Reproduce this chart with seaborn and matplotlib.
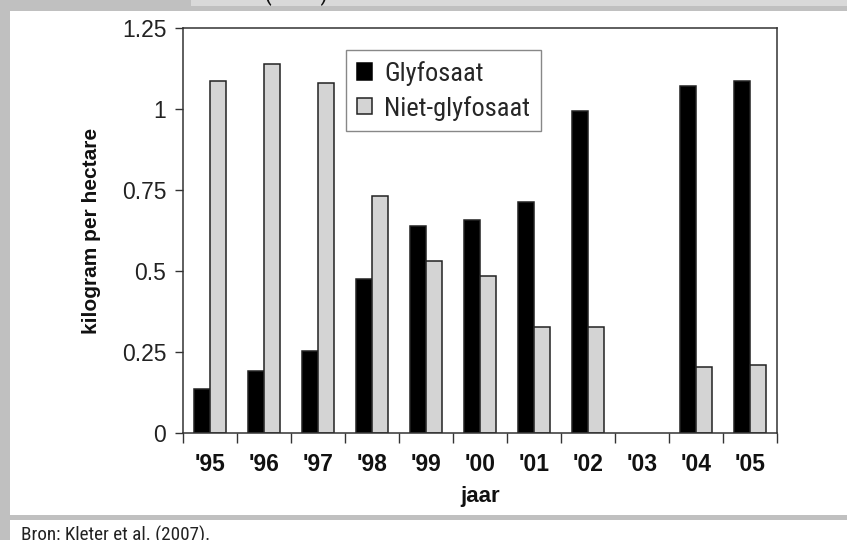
import matplotlib
matplotlib.use("Agg")
import numpy as np
import pandas as pd
import matplotlib.pyplot as plt
import seaborn as sns
from matplotlib.patches import Rectangle, Patch

# data
jaren = ["'95", "'96", "'97", "'98", "'99", "'00", "'01", "'02", "'03", "'04", "'05"]
glyfosaat = [0.137, 0.192, 0.254, 0.476, 0.640, 0.659, 0.714, 0.993, np.nan, 1.072, 1.085]
niet_glyfosaat = [1.088, 1.140, 1.079, 0.732, 0.530, 0.486, 0.327, 0.327, np.nan, 0.203, 0.210]
soorten = ["Glyfosaat", "Niet-glyfosaat"]
y_ticks = [0, 0.25, 0.5, 0.75, 1, 1.25]
y_tick_labels = ["0", "0.25", "0.5", "0.75", "1", "1.25"]

W, H = 847, 540
NARROW = ["Roboto Condensed", "Liberation Sans", "DejaVu Sans"]
SANS = ["Liberation Sans", "DejaVu Sans"]

df = pd.DataFrame({
    "jaar": jaren * 2,
    "soort": [soorten[0]] * len(jaren) + [soorten[1]] * len(jaren),
    "waarde": glyfosaat + niet_glyfosaat,
})

sns.set_theme(style="white")
plt.rcParams["font.family"] = SANS

fig = plt.figure(figsize=(W / 100, H / 100), dpi=100, facecolor="#c0c0c0")

# white panels and the light title strip of the page frame
fig.patches.append(Rectangle((9.5 / W, 1 - 515 / H), 1, (515 - 10.7) / H,
                             transform=fig.transFigure, facecolor="white", edgecolor="none", zorder=-2))
fig.patches.append(Rectangle((9.5 / W, 0), 1, 20 / H,
                             transform=fig.transFigure, facecolor="white", edgecolor="none", zorder=-2))
fig.patches.append(Rectangle((191 / W, 1 - 5.7 / H), 1, 5.7 / H,
                             transform=fig.transFigure, facecolor="#d9d9d9", edgecolor="none", zorder=-2))
fig.text(263 / W, 1.0, "(2007)", fontsize=18, family=NARROW, va="baseline", ha="left", color="#111")

ax = fig.add_axes([183 / W, 1 - 433.3 / H, 594 / W, 405.3 / H])
ax.set_facecolor("white")

sns.barplot(data=df, x="jaar", y="waarde", hue="soort", order=jaren, hue_order=soorten,
            palette={"Glyfosaat": "black", "Niet-glyfosaat": "#d4d4d4"},
            width=0.61, edgecolor="#222222", linewidth=1.1, errorbar=None, ax=ax)

ax.set_xlim(-0.5, 10.5)
ax.set_ylim(0, 1.25)

ax.set_xticks(range(len(jaren)))
ax.set_xticklabels(jaren, fontsize=16.5, fontweight="bold")
ax.set_xticks(np.arange(-0.5, len(jaren)), minor=True)
ax.tick_params(axis="x", which="major", length=0, pad=14, colors="#111")
ax.tick_params(axis="x", which="minor", length=7, width=1, color="#333", direction="out", bottom=True)

ax.set_yticks(y_ticks)
ax.set_yticklabels(y_tick_labels, fontsize=16.5)
ax.tick_params(axis="y", length=5.5, width=1, color="#333", direction="out", pad=6.5, left=True,
               labelcolor="#222")

for sp in ax.spines.values():
    sp.set_visible(True)
    sp.set_color("#333333")
    sp.set_linewidth(1.1)

ax.set_xlabel("jaar", fontsize=16, fontweight="bold", color="#111")
ax.xaxis.set_label_coords(0.5, -0.13)
ax.set_ylabel("kilogram per hectare", fontsize=15, fontweight="bold", color="#111")
ax.yaxis.set_label_coords(-0.138, 0.5)

handles = [Patch(facecolor="black", edgecolor="black", linewidth=1.1),
           Patch(facecolor="#d4d4d4", edgecolor="#222222", linewidth=1.1)]
leg = ax.legend(handles, soorten, loc="upper left", bbox_to_anchor=(0.2744, 0.946), borderaxespad=0,
                frameon=True, fancybox=False, framealpha=1, edgecolor="#888888",
                prop={"family": NARROW, "size": 19},
                handlelength=0.58, handleheight=0.58, handletextpad=0.45,
                borderpad=0.41, labelspacing=0.38)
leg.get_frame().set_linewidth(1.0)

fig.text(21 / W, -1 / H, "Bron: Kleter et al. (2007).", fontsize=13.8, family=NARROW,
         va="baseline", ha="left", color="#222")

fig.savefig("out.png", dpi=100, facecolor=fig.get_facecolor())
